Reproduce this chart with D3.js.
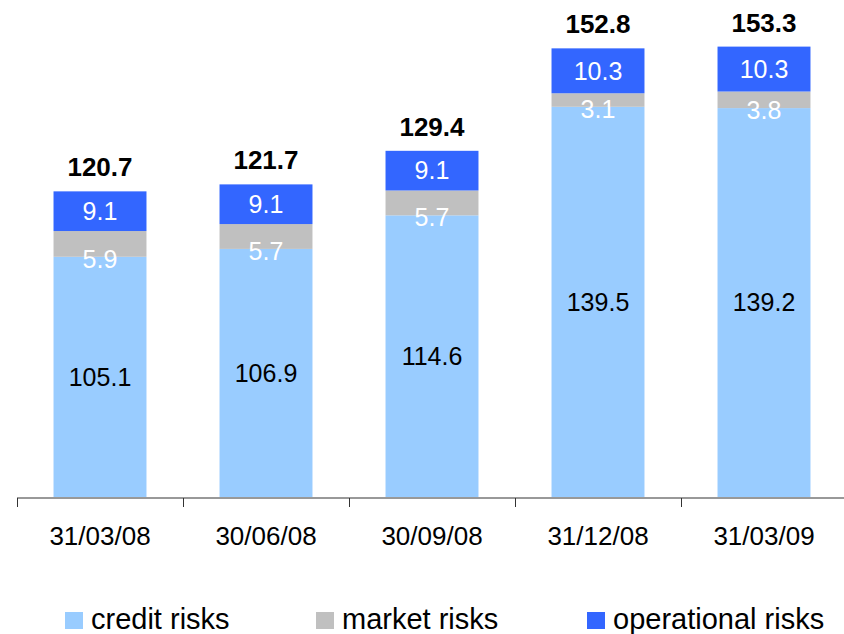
<!DOCTYPE html>
<html>
<head>
<meta charset="utf-8">
<script src="https://cdn.jsdelivr.net/npm/d3@7"></script>
<style>
  body { margin: 0; background: #fff; }
  text { font-family: Arial, "Liberation Sans", sans-serif; }
</style>
</head>
<body>
<script>
var dates = ['31/03/08', '30/06/08', '30/09/08', '31/12/08', '31/03/09'];
var credit = [105.1, 106.9, 114.6, 139.5, 139.2];
var market = [5.9, 5.7, 5.7, 3.1, 3.8];
var operational = [9.1, 9.1, 9.1, 10.3, 10.3];
var totals = [120.7, 121.7, 129.4, 152.8, 153.3];
var seriesNames = ['credit risks', 'market risks', 'operational risks'];
var colors = ['#99CCFF', '#C0C0C0', '#3366FF'];

var width = 844, height = 634;
var svg = d3.select('body').append('svg')
  .attr('width', width)
  .attr('height', height);

// value axis starts at 50, not zero
var y = d3.scaleLinear().domain([50, 150]).range([497, 61]);
var xTicks = d3.scaleBand().domain(d3.range(dates.length)).range([17, 847]);
var x = d3.scaleBand().domain(d3.range(dates.length)).range([17, 847])
  .paddingInner(0.44).paddingOuter(0.22);

var rows = dates.map(function(d, i) {
  return {i: i, credit: credit[i], market: market[i], operational: operational[i]};
});
var stack = d3.stack().keys(['credit', 'market', 'operational']).offset(function(series, order) {
  // stack from the axis floor
  for (var j = 0; j < series[0].length; j++) {
    var base = 0;
    for (var k = 0; k < order.length; k++) {
      var s = series[order[k]][j];
      var v = s[1] - s[0];
      s[0] = base; s[1] = base + v; base += v;
    }
  }
});
var layers = stack(rows);

var g = svg.append('g');
layers.forEach(function(layer, li) {
  g.append('g').selectAll('rect')
    .data(layer)
    .enter().append('rect')
      .attr('x', function(d, i) { return x(i); })
      .attr('width', x.bandwidth())
      .attr('y', function(d) { return y(Math.max(d[1], 50)); })
      .attr('height', function(d) { return y(Math.max(d[0], 50)) - y(Math.max(d[1], 50)); })
      .style('fill', colors[li]);
});

// axis
var axis = svg.append('g').attr('transform', 'translate(0,498)');
axis.append('line')
  .attr('x1', 17).attr('x2', width)
  .attr('y1', 0).attr('y2', 0)
  .attr('stroke', '#333').attr('stroke-width', 1);
axis.selectAll('.tick')
  .data(d3.range(dates.length))
  .enter().append('line')
    .attr('x1', function(i) { return xTicks(i) + 0.5; })
    .attr('x2', function(i) { return xTicks(i) + 0.5; })
    .attr('y1', 0).attr('y2', 9)
    .attr('stroke', '#333');
axis.selectAll('text')
  .data(dates)
  .enter().append('text')
    .attr('x', function(d, i) { return xTicks(i) + xTicks.bandwidth() / 2; })
    .attr('y', 47)
    .attr('text-anchor', 'middle')
    .attr('font-size', '26px')
    .attr('fill', '#000')
    .text(function(d) { return d; });

// credit labels
g.append('g').selectAll('text')
  .data(layers[0])
  .enter().append('text')
    .attr('x', function(d, i) { return x(i) + x.bandwidth() / 2; })
    .attr('y', function(d) { return (y(Math.max(d[0], 50)) + y(d[1])) / 2; })
    .attr('dy', '0.35em')
    .attr('text-anchor', 'middle')
    .attr('font-size', '25px')
    .attr('fill', '#000')
    .text(function(d, i) { return credit[i].toFixed(1); });

// market labels, sit on the credit/market boundary
g.append('g').selectAll('text')
  .data(layers[1])
  .enter().append('text')
    .attr('x', function(d, i) { return x(i) + x.bandwidth() / 2; })
    .attr('y', function(d) { return y(d[0]) + 2; })
    .attr('dy', '0.35em')
    .attr('text-anchor', 'middle')
    .attr('font-size', '25px')
    .attr('fill', '#fff')
    .text(function(d, i) { return market[i].toFixed(1); });

// operational labels
g.append('g').selectAll('text')
  .data(layers[2])
  .enter().append('text')
    .attr('x', function(d, i) { return x(i) + x.bandwidth() / 2; })
    .attr('y', function(d) { return (y(d[0]) + y(d[1])) / 2; })
    .attr('dy', '0.35em')
    .attr('text-anchor', 'middle')
    .attr('font-size', '25px')
    .attr('fill', '#fff')
    .text(function(d, i) { return operational[i].toFixed(1); });

// totals
g.append('g').selectAll('text')
  .data(totals)
  .enter().append('text')
    .attr('x', function(d, i) { return x(i) + x.bandwidth() / 2; })
    .attr('y', function(d, i) { return y(layers[2][i][1]) - 15; })
    .attr('text-anchor', 'middle')
    .attr('font-size', '26px')
    .attr('font-weight', 'bold')
    .attr('fill', '#000')
    .text(function(d) { return d.toFixed(1); });

// legend
var legendX = [65, 316, 587];
var legend = svg.append('g').selectAll('g')
  .data(seriesNames)
  .enter().append('g')
    .attr('transform', function(d, i) { return 'translate(' + legendX[i] + ',612)'; });
legend.append('rect')
  .attr('width', 18).attr('height', 17)
  .style('fill', function(d, i) { return colors[i]; });
legend.append('text')
  .attr('x', 26).attr('y', 17)
  .attr('font-size', '29px')
  .attr('fill', '#000')
  .text(function(d) { return d; });
</script>
</body>
</html>
